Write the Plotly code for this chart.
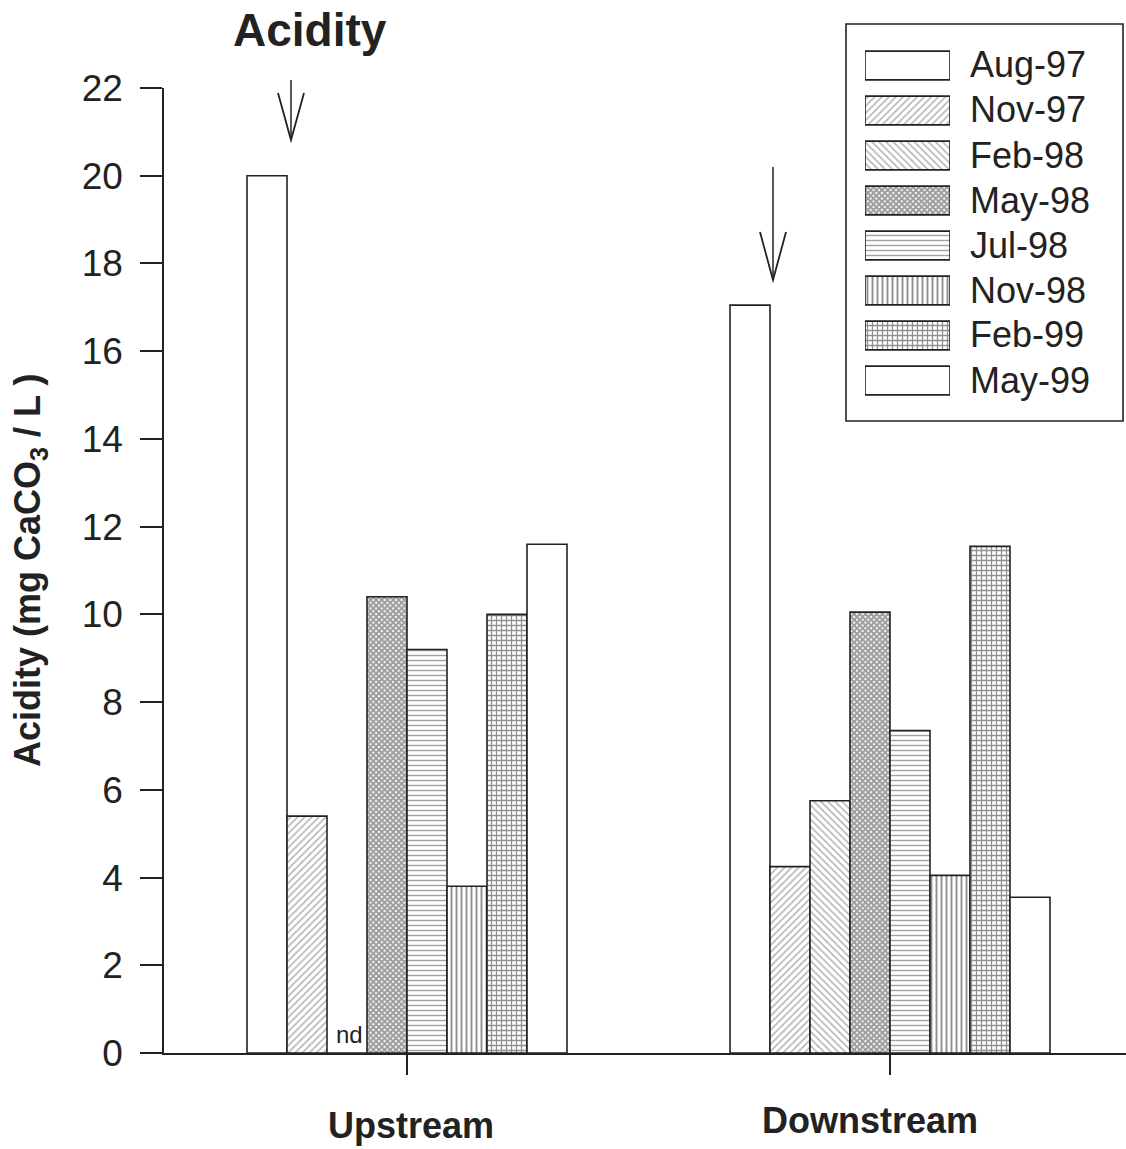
import plotly.graph_objects as go

# ---------------- data ----------------
sites = ["Upstream", "Downstream"]
dates = ["Aug-97", "Nov-97", "Feb-98", "May-98", "Jul-98", "Nov-98", "Feb-99", "May-99"]
upstream = [20.0, 5.4, 0.0, 10.4, 9.2, 3.8, 10.0, 11.6]     # Feb-98 upstream: nd
downstream = [17.05, 4.25, 5.75, 10.05, 7.35, 4.05, 11.55, 3.55]
y_ticks = [0, 2, 4, 6, 8, 10, 12, 14, 16, 18, 20, 22]

# ---------------- styles ----------------
W, H = 1126, 1149
FONT = "Liberation Sans, Arial, sans-serif"
INK = "#222222"
patterns = {
    "Aug-97": dict(shape=""),
    "Nov-97": dict(shape="/", size=5, solidity=0.3, fgcolor="#666666"),
    "Feb-98": dict(shape="\\", size=5, solidity=0.3, fgcolor="#666666"),
    "May-98": dict(shape="x", size=4, solidity=0.75, fgcolor="#3a3a3a"),
    "Jul-98": dict(shape="-", size=5, solidity=0.28, fgcolor="#444444"),
    "Nov-98": dict(shape="|", size=5, solidity=0.38, fgcolor="#1e1e1e"),
    "Feb-99": dict(shape="+", size=5, solidity=0.45, fgcolor="#222222"),
    "May-99": dict(shape=""),
}

def px_x(p):
    return p / W

def px_y(p):
    return 1 - p / H

BARGAP = 0.3375
x_pos = list(range(len(sites)))

fig = go.Figure()
for i, d in enumerate(dates):
    fig.add_trace(go.Bar(
        x=x_pos, y=[upstream[i], downstream[i]], name=d,
        marker=dict(color="white", line=dict(color=INK, width=1.6), pattern=patterns[d]),
        showlegend=False, xaxis="x", yaxis="y",
    ))

# custom legend swatches drawn as bars on a small helper axis
for i, d in enumerate(dates):
    fig.add_trace(go.Bar(
        x=[1], y=[i], base=0, orientation="h", width=0.64,
        marker=dict(color="white", line=dict(color=INK, width=1.6), pattern=patterns[d]),
        showlegend=False, xaxis="x2", yaxis="y2", hoverinfo="skip",
    ))

fig.update_layout(
    width=W, height=H,
    margin=dict(l=0, r=0, t=0, b=0, autoexpand=False),
    showlegend=False,
    paper_bgcolor="white", plot_bgcolor="white",
    barmode="group", bargap=BARGAP, bargroupgap=0,
    font=dict(family=FONT, color=INK),
    xaxis=dict(
        domain=[px_x(164), 1.0],
        range=[-0.5031, 1.4886],
        tickvals=x_pos, showticklabels=False,
        ticks="outside", ticklen=20, tickwidth=1.5, tickcolor=INK,
        showline=True, linecolor=INK, linewidth=1.6,
        showgrid=False, zeroline=False, automargin=False,
    ),
    yaxis=dict(
        domain=[px_y(1053), px_y(88)],
        range=[0, 22],
        tickvals=y_ticks,
        ticks="outside", ticklen=22, tickwidth=1.5, tickcolor=INK,
        ticklabelstandoff=10,
        tickfont=dict(size=37, family=FONT, color=INK),
        showline=True, linecolor=INK, linewidth=1.6,
        showgrid=False, zeroline=False, automargin=False,
    ),
    xaxis2=dict(domain=[px_x(865), px_x(950)], range=[0, 1], anchor="y2",
                visible=False, fixedrange=True, automargin=False),
    yaxis2=dict(domain=[px_y(403), px_y(43)], range=[7.5, -0.5], anchor="x2",
                visible=False, fixedrange=True, automargin=False),
)

ann = []
# title
ann.append(dict(text="<b>Acidity</b>", x=px_x(310), y=px_y(30), xref="paper", yref="paper",
                showarrow=False, font=dict(size=46, family=FONT, color=INK),
                xanchor="center", yanchor="middle"))
# y axis title
ann.append(dict(text="<b>Acidity (mg CaCO<sub>3</sub> / L )</b>", x=px_x(30), y=px_y(571),
                xref="paper", yref="paper", showarrow=False, textangle=-90,
                font=dict(size=36, family=FONT, color=INK), xanchor="center", yanchor="middle"))
# category labels
ann.append(dict(text="<b>Upstream</b>", x=px_x(411), y=px_y(1125), xref="paper", yref="paper",
                showarrow=False, font=dict(size=36, family=FONT, color=INK),
                xanchor="center", yanchor="middle"))
ann.append(dict(text="<b>Downstream</b>", x=px_x(870), y=px_y(1120), xref="paper", yref="paper",
                showarrow=False, font=dict(size=36, family=FONT, color=INK),
                xanchor="center", yanchor="middle"))
# nd label on missing Upstream Feb-98 bar
group_w = 1 - BARGAP
bar_w = group_w / len(dates)
nd_x = 0 - group_w / 2 + 2.5 * bar_w
ann.append(dict(text="nd", x=nd_x, y=0, xref="x", yref="y", showarrow=False,
                font=dict(size=24, family=FONT, color=INK),
                xanchor="center", yanchor="bottom", yshift=3, xshift=2))
# legend labels
for i, d in enumerate(dates):
    ann.append(dict(text=d, x=px_x(968), y=px_y(65 + 45 * i), xref="paper", yref="paper",
                    showarrow=False, font=dict(size=36, family=FONT, color=INK),
                    xanchor="left", yanchor="middle"))
fig.update_layout(annotations=ann)

shapes = []
# legend frame
shapes.append(dict(type="rect", xref="paper", yref="paper",
                   x0=px_x(846), x1=px_x(1123), y0=px_y(421), y1=px_y(24),
                   line=dict(color=INK, width=1.6), fillcolor="rgba(0,0,0,0)"))
# arrows (stem + open V head)
for sx, top, tip, arm_y in [(291, 80, 140, 93), (773, 167, 280, 232)]:
    shapes.append(dict(type="line", xref="paper", yref="paper",
                       x0=px_x(sx), x1=px_x(sx), y0=px_y(top), y1=px_y(tip),
                       line=dict(color=INK, width=1.5)))
    path = "M {a},{b} L {c},{d} L {e},{f}".format(
        a=px_x(sx - 13), b=px_y(arm_y), c=px_x(sx), d=px_y(tip), e=px_x(sx + 13), f=px_y(arm_y))
    shapes.append(dict(type="path", xref="paper", yref="paper", path=path,
                       line=dict(color=INK, width=1.8)))
fig.update_layout(shapes=shapes)

fig.write_html("out.html")
